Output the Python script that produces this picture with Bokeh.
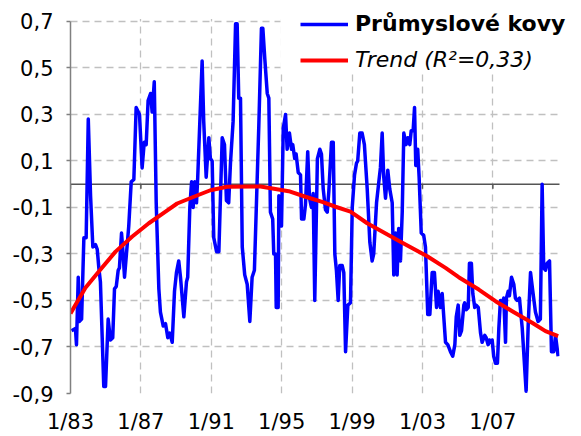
from bokeh.plotting import figure
from bokeh.models import Range1d, Legend, LegendItem, Span, BoxAnnotation
from bokeh.core.properties import value
from bokeh.embed import file_html
from bokeh.resources import INLINE

# ---- data ----
blue_year = [1983.06, 1983.28, 1983.34, 1983.44, 1983.51, 1983.63, 1983.76, 1983.89, 1984.01, 1984.14,
             1984.27, 1984.42, 1984.52, 1984.61, 1984.70, 1984.89, 1984.99, 1985.14, 1985.27, 1985.40,
             1985.50, 1985.60, 1985.71, 1985.78, 1985.90, 1985.97, 1986.07, 1986.18, 1986.31, 1986.45,
             1986.60, 1986.73, 1986.92, 1987.07, 1987.19, 1987.30, 1987.41, 1987.55, 1987.64, 1987.76,
             1987.87, 1988.02, 1988.11, 1988.27, 1988.40, 1988.53, 1988.64, 1988.78, 1988.91, 1989.02,
             1989.15, 1989.25, 1989.44, 1989.59, 1989.66, 1989.78, 1989.88, 1989.97, 1990.06, 1990.16,
             1990.23, 1990.35, 1990.48, 1990.57, 1990.71, 1990.86, 1990.95, 1991.05, 1991.14, 1991.30,
             1991.43, 1991.62, 1991.75, 1991.86, 1991.99, 1992.09, 1992.24, 1992.38, 1992.47, 1992.56,
             1992.66, 1992.76, 1992.90, 1993.04, 1993.19, 1993.32, 1993.45, 1993.70, 1993.85, 1993.93,
             1994.04, 1994.18, 1994.27, 1994.36, 1994.49, 1994.55, 1994.65, 1994.69, 1994.80, 1994.84,
             1994.89, 1994.99, 1995.09, 1995.22, 1995.31, 1995.44, 1995.56, 1995.63, 1995.74, 1995.82,
             1995.94, 1996.07, 1996.13, 1996.26, 1996.35, 1996.48, 1996.58, 1996.69, 1996.79, 1996.88,
             1997.03, 1997.17, 1997.26, 1997.36, 1997.49, 1997.59, 1997.68, 1997.83, 1997.93, 1998.02,
             1998.11, 1998.21, 1998.30, 1998.44, 1998.53, 1998.63, 1998.76, 1998.91, 1999.01, 1999.14,
             1999.25, 1999.32, 1999.44, 1999.57, 1999.70, 1999.86, 2000.01, 2000.14, 2000.23, 2000.39,
             2000.52, 2000.61, 2000.71, 2000.80, 2000.90, 2001.03, 2001.14, 2001.28, 2001.37, 2001.47,
             2001.56, 2001.65, 2001.75, 2001.85, 2001.94, 2002.07, 2002.17, 2002.28, 2002.36, 2002.47,
             2002.55, 2002.62, 2002.73, 2002.81, 2002.93, 2003.07, 2003.17, 2003.30, 2003.42, 2003.55,
             2003.68, 2003.80, 2003.89, 2004.02, 2004.12, 2004.31, 2004.44, 2004.59, 2004.72, 2004.84,
             2004.92, 2005.03, 2005.12, 2005.22, 2005.35, 2005.40, 2005.48, 2005.60, 2005.67, 2005.78,
             2005.86, 2005.97, 2006.05, 2006.17, 2006.30, 2006.39, 2006.54, 2006.62, 2006.73, 2006.81,
             2006.86, 2006.96, 2007.05, 2007.15, 2007.26, 2007.34, 2007.43, 2007.53, 2007.62, 2007.72,
             2007.77, 2007.87, 2007.94, 2008.06, 2008.19, 2008.28, 2008.38, 2008.51, 2008.67, 2008.89,
             2009.01, 2009.14, 2009.27, 2009.42, 2009.57, 2009.70, 2009.80, 2009.89, 2009.99, 2010.09,
             2010.22, 2010.33, 2010.46, 2010.56, 2010.71]
blue_val = [-0.63, -0.62, -0.69, -0.40, -0.59, -0.58, -0.23, -0.23, 0.28, -0.05,
            -0.27, -0.26, -0.28, -0.36, -0.42, -0.87, -0.87, -0.58, -0.67, -0.66,
            -0.45, -0.44, -0.37, -0.36, -0.21, -0.28, -0.40, -0.30, -0.18, 0.01,
            0.02, 0.33, 0.30, 0.07, 0.18, 0.17, 0.36, 0.39, 0.31, 0.44,
            -0.08, -0.45, -0.55, -0.61, -0.60, -0.66, -0.64, -0.68, -0.46, -0.38,
            -0.33, -0.40, -0.57, -0.42, -0.40, -0.10, 0.01, -0.10, 0.01, -0.08,
            0.03, 0.27, 0.53, 0.27, 0.03, 0.20, 0.11, 0.10, -0.23, -0.29,
            -0.29, 0.20, 0.17, -0.07, -0.08, 0.09, 0.27, 0.69, 0.69, 0.37,
            0.37, -0.27, -0.39, -0.43, -0.59, -0.40, -0.37, 0.25, 0.67, 0.67,
            0.54, 0.39, 0.37, -0.12, -0.15, -0.30, -0.30, -0.53, -0.53, -0.05,
            -0.14, -0.18, 0.24, 0.30, 0.15, 0.22, 0.15, 0.17, 0.11, 0.13,
            0.05, 0.04, -0.15, -0.15, -0.09, 0.14, -0.06, -0.10, -0.04, -0.50,
            0.11, 0.15, 0.13, -0.02, -0.11, -0.12, -0.03, 0.18, 0.18, -0.30,
            -0.37, -0.50, -0.35, -0.35, -0.38, -0.72, -0.52, -0.51, -0.10, 0.04,
            0.09, 0.10, 0.22, 0.22, 0.17, -0.02, -0.25, -0.33, -0.30, -0.08,
            0.01, 0.07, 0.22, 0.03, -0.06, 0.06, -0.02, -0.08, -0.39, -0.21,
            -0.39, -0.19, -0.33, -0.12, 0.22, 0.17, 0.20, 0.17, 0.23, 0.23,
            0.33, 0.08, 0.15, 0.03, -0.21, -0.22, -0.27, -0.56, -0.56, -0.38,
            -0.38, -0.53, -0.46, -0.53, -0.47, -0.68, -0.69, -0.72, -0.74, -0.69,
            -0.57, -0.52, -0.65, -0.63, -0.52, -0.51, -0.54, -0.53, -0.34, -0.34,
            -0.47, -0.53, -0.52, -0.53, -0.64, -0.68, -0.65, -0.66, -0.69, -0.67,
            -0.68, -0.67, -0.74, -0.77, -0.77, -0.62, -0.50, -0.51, -0.49, -0.68,
            -0.49, -0.46, -0.48, -0.40, -0.43, -0.49, -0.50, -0.49, -0.62, -0.89,
            -0.60, -0.38, -0.46, -0.55, -0.59, -0.58, 0.00, -0.36, -0.37, -0.34,
            -0.33, -0.72, -0.72, -0.65, -0.74]

trend_year = [1983.00, 1983.85, 1984.61, 1985.56, 1986.51, 1987.45, 1988.36, 1989.06, 1990.01, 1990.95,
              1991.90, 1993.80, 1995.40, 1996.35, 1997.30, 1998.06, 1998.91, 1999.86, 2001.75, 2003.27,
              2004.31, 2005.06, 2006.20, 2007.15, 2008.10, 2009.23, 2009.99, 2010.71]
trend_val = [-0.556, -0.445, -0.375, -0.29, -0.225, -0.168, -0.12, -0.083, -0.054, -0.026,
             -0.011, -0.01, -0.03, -0.054, -0.076, -0.097, -0.118, -0.168, -0.247, -0.31,
             -0.36, -0.40, -0.453, -0.503, -0.546, -0.596, -0.632, -0.653]

x_ticks = [1983, 1987, 1991, 1995, 1999, 2003, 2007]
x_tick_labels = ["1/83", "1/87", "1/91", "1/95", "1/99", "1/03", "1/07"]
y_ticks = [-0.9, -0.7, -0.5, -0.3, -0.1, 0.1, 0.3, 0.5, 0.7]
y_tick_labels = ["-0,9", "-0,7", "-0,5", "-0,3", "-0,1", "0,1", "0,3", "0,5", "0,7"]
x_axis_min, x_axis_max = 1983, 2010.73
y_axis_min, y_axis_max = -0.9, 0.7

series_name = "Průmyslové kovy"
trend_name = "Trend (R²=0,33)"

FONT = "DejaVu Sans"

# The frame runs to the top and right edges of the canvas (so the legend is not
# clipped); the plot area proper (axis, grid) spans 1/83 .. 2010 and -0,9 .. 0,7,
# the rest is masked with white boxes.
PX_PER_UNIT = 233.75
PX_PER_YEAR = 17.6
top_pad = 21 / PX_PER_UNIT
right_pad = 20 / PX_PER_YEAR
p = figure(width=578, height=436, output_backend="svg", toolbar_location=None,
           x_range=Range1d(x_axis_min, x_axis_max + right_pad),
           y_range=Range1d(y_axis_min, y_axis_max + top_pad),
           min_border_left=70, min_border_right=0, min_border_top=0, min_border_bottom=41)
p.outline_line_color = None
p.background_fill_color = "white"
p.border_fill_color = "white"

# axes
p.yaxis.ticker = y_ticks
p.yaxis.bounds = (y_axis_min, y_axis_max)
p.yaxis.major_label_overrides = dict(zip(y_ticks, y_tick_labels))
p.yaxis.axis_line_color = "#808080"
p.yaxis.axis_line_width = 1.5
p.yaxis.major_tick_line_color = "#808080"
p.yaxis.major_tick_line_width = 1.5
p.yaxis.major_tick_out = 4
p.yaxis.major_tick_in = 0
p.yaxis.minor_tick_line_color = None
p.yaxis.major_label_text_font = FONT
p.yaxis.major_label_text_font_size = "21px"
p.yaxis.major_label_text_color = "black"
p.yaxis.major_label_standoff = 13

p.xaxis.ticker = x_ticks
p.xaxis.bounds = (x_axis_min, x_axis_max)
p.xaxis.major_label_overrides = dict(zip(x_ticks, x_tick_labels))
p.xaxis.axis_line_color = None
p.xaxis.major_tick_line_color = None
p.xaxis.minor_tick_line_color = None
p.xaxis.major_tick_out = 0
p.xaxis.major_tick_in = 0
p.xaxis.major_label_text_font = FONT
p.xaxis.major_label_text_font_size = "21px"
p.xaxis.major_label_text_color = "black"
p.xaxis.major_label_standoff = 16

for g in (p.xgrid, p.ygrid):
    g.grid_line_color = "#c0c0c0"
    g.grid_line_dash = "7 5"
    g.grid_line_width = 1.3

# zero line with outward ticks (category axis of the original)
zero = Span(location=0, dimension="width", line_color="#555555", line_width=1.5, level="underlay")
p.add_layout(zero)
p.segment(x0=x_ticks, x1=x_ticks, y0=[0] * len(x_ticks), y1=[-0.02] * len(x_ticks),
          line_color="#555555", line_width=1.5)

r_blue = p.line(blue_year, blue_val, line_color="#0000ff", line_width=3.5, line_join="round")
r_red = p.line(trend_year, trend_val, line_color="#ff0000", line_width=4, line_join="round")

mask = dict(left_units="screen", right_units="screen", bottom_units="screen", top_units="screen",
            fill_color="white", fill_alpha=1.0, line_color=None)
# white strip above the plot area (hides grid above 0,7)
p.add_layout(BoxAnnotation(left=-10, right=700, bottom=374.6, top=500, **mask))
# white strip right of the plot area
p.add_layout(BoxAnnotation(left=489, right=700, bottom=-100, top=500, **mask))
# white area behind the legend
p.add_layout(BoxAnnotation(left=210, right=700, bottom=323, top=500, **mask))

common = dict(orientation="vertical", padding=0, margin=0, spacing=0,
              glyph_width=48, glyph_height=20, label_height=20, label_standoff=7,
              label_text_font=FONT, label_text_font_size="22px", label_text_color="black",
              border_line_color=None, background_fill_alpha=0)
leg1 = Legend(items=[LegendItem(label=value(series_name), renderers=[r_blue])],
              location=(230, 357), label_text_font_style="bold", **common)
leg2 = Legend(items=[LegendItem(label=value(trend_name), renderers=[r_red])],
              location=(230, 321), label_text_font_style="italic", **common)
p.add_layout(leg1)
p.add_layout(leg2)

open("out.html", "w").write(file_html(p, INLINE))
